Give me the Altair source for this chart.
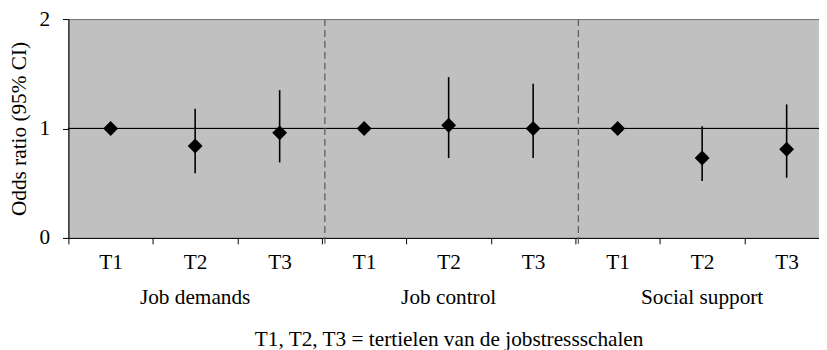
import altair as alt
import pandas as pd

groups = ["Job demands", "Job demands", "Job demands",
          "Job control", "Job control", "Job control",
          "Social support", "Social support", "Social support"]
tertiles = ["T1", "T2", "T3"] * 3
odds = [1.00, 0.84, 0.96, 1.00, 1.03, 1.00, 1.00, 0.73, 0.81]
ci_low = [None, 0.59, 0.69, None, 0.73, 0.73, None, 0.52, 0.55]
ci_high = [None, 1.18, 1.35, None, 1.47, 1.41, None, 1.02, 1.22]
y_ticks = [0, 1, 2]
separators = ["Job control|T1", "Social support|T1"]
group_names = ["Job demands", "Job control", "Social support"]

keys = [f"{g}|{t}" for g, t in zip(groups, tertiles)]
df = pd.DataFrame({"key": keys, "or": odds, "lo": ci_low, "hi": ci_high})
sep_df = pd.DataFrame({"key": separators})
grp_df = pd.DataFrame({"key": [f"{g}|T2" for g in group_names], "name": group_names})

FONT = "Liberation Serif, Times New Roman, DejaVu Serif, serif"
FS = 21.5

label_expr = "split(datum.value, '|')[1]"

x_scale = alt.Scale(domain=keys, paddingInner=0, paddingOuter=0)
x_axis = alt.Axis(
    title="T1, T2, T3 = tertielen van de jobstressschalen",
    labelExpr=label_expr, labelAngle=0, labelFont=FONT, labelFontSize=FS,
    labelColor="black", labelPadding=8,
    labelOverlap=False, labelBound=False,
    tickBand="extent", tickSize=6, tickColor="black", tickWidth=1,
    domainColor="black", domainWidth=1,
    titleFont=FONT, titleFontSize=FS, titleFontWeight="normal",
    titleColor="black", titlePadding=56,
)

y_scale = alt.Scale(domain=[min(y_ticks), max(y_ticks)], nice=False, zero=False)
y_axis = alt.Axis(
    title="Odds ratio (95% CI)", tickCount=len(y_ticks) - 1, format="d", grid=False,
    labelFont=FONT, labelFontSize=FS, labelColor="black", labelPadding=13,
    labelOverlap=False, labelBound=False, labelFlush=False,
    tickSize=6, tickColor="black", domainColor="black",
    titleFont=FONT, titleFontSize=FS, titleFontWeight="normal", titleColor="black",
    titlePadding=9,
)

base = alt.Chart(df)

bars = base.mark_rule(color="black", strokeWidth=1.6).encode(
    x=alt.X("key:N", sort=keys, scale=x_scale, axis=x_axis),
    y=alt.Y("lo:Q", scale=y_scale, axis=y_axis),
    y2="hi:Q",
)

pts = base.mark_point(
    shape="diamond", size=225, filled=True, color="black", opacity=1
).encode(
    x=alt.X("key:N", sort=keys),
    y=alt.Y("or:Q"),
)

ref = base.mark_rule(color="black", strokeWidth=1).encode(
    y=alt.datum(1)
)

seps = alt.Chart(sep_df).mark_rule(
    color="#606060", strokeWidth=1.3, strokeDash=[7, 4], xOffset=3
).encode(
    x=alt.X("key:N", sort=keys, bandPosition=0),
    y=alt.value(0),
    y2=alt.value(230.5),
)

grp = alt.Chart(grp_df).mark_text(
    font=FONT, fontSize=FS, color="black", baseline="alphabetic", align="center"
).encode(
    x=alt.X("key:N", sort=keys),
    y=alt.value(288),
    text="name:N",
)

chart = alt.layer(bars, ref, pts, seps, grp).properties(
    width=768, height=221,
    autosize=alt.AutoSizeParams(type="none"),
    padding={"left": 61, "top": 9.5, "right": -10, "bottom": 111},
).configure_view(
    fill="#c0c0c0", stroke="#707070", strokeWidth=1
)

chart.save("out.html", embed_options={"renderer": "svg", "actions": False})
